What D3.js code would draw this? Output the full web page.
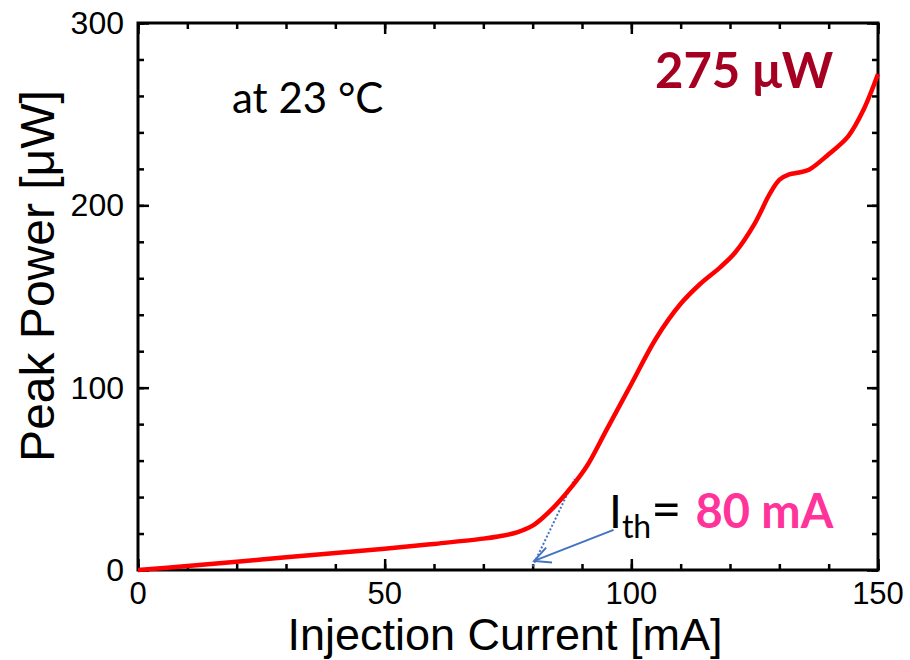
<!DOCTYPE html>
<html>
<head>
<meta charset="utf-8">
<script src="https://cdn.jsdelivr.net/npm/d3@7"></script>
<style>
  body { margin: 0; background: #fff; }
  svg { display: block; }
</style>
</head>
<body>
<svg id="chart" width="910" height="660"></svg>
<script>
// データ
var current = [0, 10, 20, 30, 40, 50, 60, 70, 73, 76, 78, 80, 82, 85, 88, 91, 95, 100, 105, 110, 114, 118, 121, 125, 128, 130, 132, 134, 136, 140, 144, 147, 150];
var power   = [0, 2.2, 4.5, 7, 9.3, 11.6, 14.3, 17.2, 18.4, 20, 21.8, 24.3, 28.5, 36.5, 46, 57, 77, 102, 127, 146, 157, 166, 174, 190, 206, 214, 217, 218, 219.5, 228, 238, 252, 272];

var xTicks = [0, 50, 100, 150];
var yTicks = [0, 100, 200, 300];

// しきい値の補助線
var thLine = [[80, 2], [88.5, 50]];
var thArrow = [[96.4, 22], [80.3, 5]];

// - - - - 設定 - - - -
var W = 910, H = 660;
var margin = {left: 138, right: 32, top: 23, bottom: 90};
var tickFont = '"Liberation Sans", Arial, sans-serif';
var noteFont = 'Lato, "Open Sans", sans-serif';

var svg = d3.select('#chart');
var x = d3.scaleLinear().domain([0, 150]).range([margin.left, W - margin.right]);
var y = d3.scaleLinear().domain([0, 300]).range([H - margin.bottom, margin.top]);

// 目盛り（内向き、四辺）
function drawTicks(axisFn, scale, transform, vals, len) {
    svg.append('g')
        .attr('transform', transform)
        .call(axisFn(scale).tickValues(vals).tickSize(len).tickFormat(''))
        .call(g => g.select('.domain').remove())
        .call(g => g.selectAll('line').attr('stroke', '#000').attr('stroke-width', 2.5));
}
var xMinor = d3.range(0, 151, 10);
var yMinor = d3.range(0, 301, 20);
var x0 = margin.left, x1 = W - margin.right, y0 = H - margin.bottom, y1 = margin.top;
drawTicks(d3.axisTop, x, `translate(0,${y0})`, xMinor, 6);
drawTicks(d3.axisTop, x, `translate(0,${y0})`, xTicks, 11);
drawTicks(d3.axisBottom, x, `translate(0,${y1})`, xMinor, 6);
drawTicks(d3.axisBottom, x, `translate(0,${y1})`, xTicks, 11);
drawTicks(d3.axisRight, y, `translate(${x0},0)`, yMinor, 6);
drawTicks(d3.axisRight, y, `translate(${x0},0)`, yTicks, 11);
drawTicks(d3.axisLeft, y, `translate(${x1},0)`, yMinor, 6);
drawTicks(d3.axisLeft, y, `translate(${x1},0)`, yTicks, 11);

// 枠
svg.append('rect')
    .attr('x', x0).attr('y', y1)
    .attr('width', x1 - x0).attr('height', y0 - y1)
    .attr('fill', 'none').attr('stroke', '#000').attr('stroke-width', 3);

// 目盛りラベル
svg.append('g').selectAll('text').data(xTicks).join('text')
    .attr('x', d => x(d)).attr('y', y0 + 34)
    .attr('text-anchor', 'middle')
    .style('font-family', tickFont).style('font-size', '31px')
    .text(d => d);
svg.append('g').selectAll('text').data(yTicks).join('text')
    .attr('x', x0 - 14).attr('y', d => y(d) + 11)
    .attr('text-anchor', 'end')
    .style('font-family', tickFont).style('font-size', '32px')
    .text(d => d);

// 軸タイトル
svg.append('text')
    .attr('x', (x0 + x1) / 2 - 3).attr('y', 650)
    .attr('text-anchor', 'middle')
    .style('font-family', tickFont).style('font-size', '45px')
    .text('Injection Current [mA]');
svg.append('text')
    .attr('transform', `translate(54,276) rotate(-90)`)
    .attr('text-anchor', 'middle')
    .style('font-family', tickFont).style('font-size', '48px')
    .text('Peak Power [μW]');

// しきい値の点線と矢印
svg.append('path')
    .attr('d', d3.line().x(d => x(d[0])).y(d => y(d[1]))(thLine))
    .attr('stroke', '#4472C4').attr('stroke-width', 2)
    .attr('stroke-dasharray', '2,2').attr('fill', 'none');
svg.append('defs').append('marker')
    .attr('id', 'arr').attr('viewBox', '0 0 20 20')
    .attr('refX', 18).attr('refY', 10)
    .attr('markerWidth', 20).attr('markerHeight', 20)
    .attr('markerUnits', 'userSpaceOnUse')
    .attr('orient', 'auto')
  .append('path')
    .attr('d', 'M2,2 L18,10 L2,18')
    .attr('fill', 'none').attr('stroke', '#4472C4').attr('stroke-width', 2);
svg.append('path')
    .attr('d', d3.line().x(d => x(d[0])).y(d => y(d[1]))(thArrow))
    .attr('stroke', '#4472C4').attr('stroke-width', 2)
    .attr('fill', 'none').attr('marker-end', 'url(#arr)');

// 曲線
var line = d3.line()
    .x((d, i) => x(current[i]))
    .y((d, i) => y(power[i]))
    .curve(d3.curveCatmullRom.alpha(0.5));
svg.append('path')
    .datum(power)
    .attr('d', line)
    .attr('fill', 'none')
    .attr('stroke', '#FF0000')
    .attr('stroke-width', 4.5);

// 注記
svg.append('text')
    .attr('x', 232).attr('y', 113)
    .style('font-family', noteFont).style('font-size', '42px')
    .text('at 23 °C');
svg.append('text')
    .attr('x', 655).attr('y', 88)
    .style('font-family', noteFont).style('font-size', '49px').style('font-weight', 'bold')
    .attr('fill', '#A50021')
    .text('275 μW');
var th = svg.append('text')
    .attr('x', 609).attr('y', 528)
    .style('font-family', noteFont).style('font-size', '46px');
th.append('tspan').text('I');
th.append('tspan').attr('dy', 10).style('font-size', '32px').text('th');
th.append('tspan').attr('dy', -10).style('font-size', '52px').text('=');
th.append('tspan').attr('dx', 14).attr('fill', '#FF3399').style('font-weight', 'bold').style('font-size', '47px').text('80 mA');
</script>
</body>
</html>
